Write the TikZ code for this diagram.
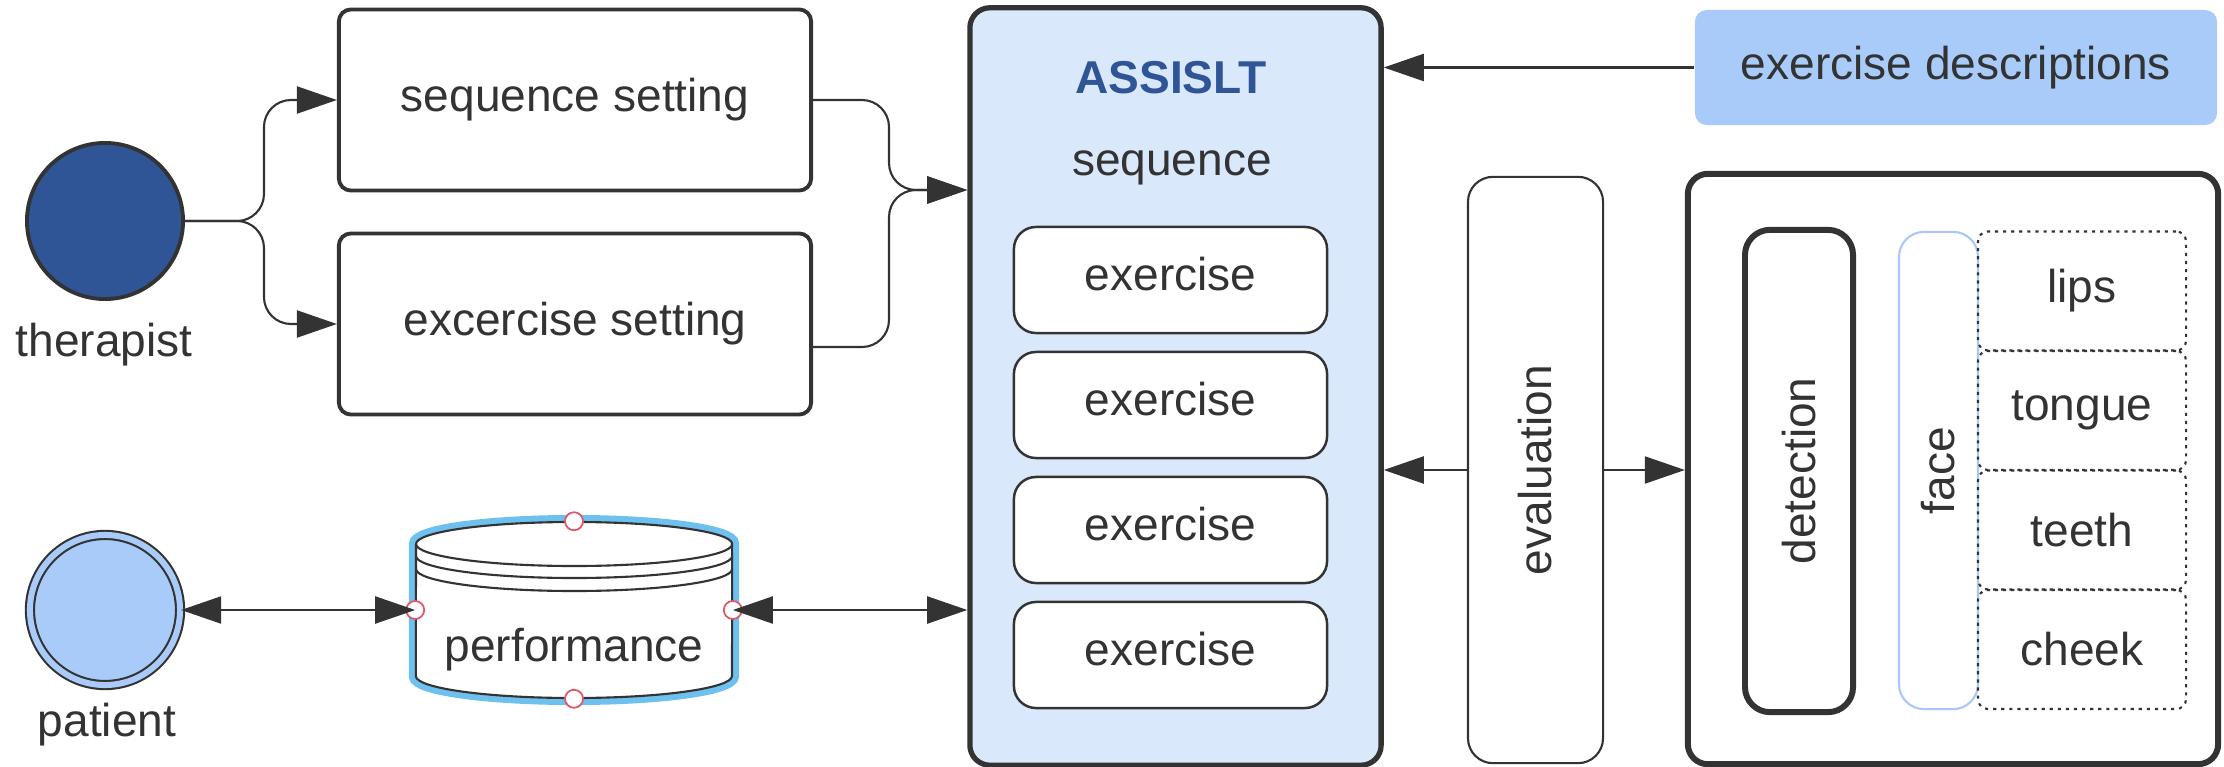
\documentclass[tikz,border=0pt]{standalone}
\usepackage{fontspec}
\setmainfont{Liberation Sans}
\usetikzlibrary{arrows.meta}
\definecolor{ink}{HTML}{333333}
\definecolor{deepblue}{HTML}{2F5597}
\definecolor{paleblue}{HTML}{DAE8FC}
\definecolor{skyblue}{HTML}{A9CBFA}
\definecolor{facerim}{HTML}{A9C8F7}
\definecolor{glow}{HTML}{6EC1EE}
\definecolor{handle}{HTML}{E0576A}

\begin{document}
\begin{tikzpicture}
[x=0.01cm, y=-0.01cm,
 every node/.style={font=\fontsize{13.1}{15}\selectfont, text=ink},
 >={Triangle[length=0.40cm,width=0.27cm]},
 conn/.style={draw=ink, line width=0.6pt},
 setbox/.style={draw=ink, line width=1.1pt, rounded corners=0.12cm, minimum width=4.72cm, minimum height=1.81cm},
 exbox/.style={draw=ink, fill=white, line width=0.7pt, rounded corners=0.22cm, minimum width=3.13cm, minimum height=1.06cm, text depth=0.12cm},
 cell/.style={draw=ink, line width=0.6pt, dash pattern=on 0.9pt off 1.4pt, rounded corners=0.1cm, minimum width=2.08cm, minimum height=1.19cm},
]
\useasboundingbox (0,0) rectangle (2224,767);
\def \rx {1.58cm}
\def \ry {0.22cm}

% actors
\node[circle, draw=ink, line width=1.1pt, fill=deepblue, minimum size=1.56cm] (therapist) at (105,221) {};
\node (therapistlabel) at (104,345) {therapist};
\node[circle, draw=ink, line width=0.6pt, fill=skyblue, double=skyblue, double distance=0.06cm, minimum size=1.50cm] (patient) at (105,610) {};
\node (patientlabel) at (107,725) {patient};

% settings
\node[setbox] (seqset) at (575,100) {sequence setting};
\node[setbox] (excset) at (575,324) {excercise setting};

% performance store
\node[minimum width=3.16cm, minimum height=1.76cm] (perf) at (574,610) {};
\draw[glow, line width=4pt] (416,544) arc[start angle=180, end angle=0, x radius=\rx, y radius=\ry]
  -- (732,676) arc[start angle=0, end angle=-180, x radius=\rx, y radius=\ry] -- cycle;
\draw[ink, line width=0.6pt, fill=white] (416,544) arc[start angle=180, end angle=0, x radius=\rx, y radius=\ry]
  -- (732,676) arc[start angle=0, end angle=-180, x radius=\rx, y radius=\ry] -- cycle;
\foreach \dy in {0,12,25}
  \draw[ink, line width=0.6pt] (416,544+\dy) arc[start angle=180, end angle=360, x radius=\rx, y radius=\ry];
\node (perflabel) at (574,650) {performance};
\foreach \a in {north,south,west,east}
  \draw[handle, fill=white, line width=0.5pt] (perf.\a) circle[radius=0.09cm];

% sequence
\node[draw=ink, fill=paleblue, line width=1.5pt, rounded corners=0.2cm, minimum width=4.11cm, minimum height=7.57cm] (assislt) at (1175.5,386.5) {};
\node[font=\fontsize{13.1}{15}\selectfont\bfseries, text=deepblue] (title) at (1171,78) {ASSISLT};
\node (seqlabel) at (1172,168) {sequence};
\foreach \i in {1,...,4}
  \node[exbox] (ex\i) at (1170.5,155+125*\i) {exercise};

\node[fill=skyblue, rounded corners=0.12cm, minimum width=5.22cm, minimum height=1.15cm] (exdesc) at (1956,67.5) {exercise descriptions};

% evaluation and detection
\node[draw=ink, line width=0.6pt, rounded corners=0.25cm, minimum width=1.35cm, minimum height=5.86cm] (eval) at (1535.5,470) {};
\node[rotate=90] (evallabel) at (eval) {evaluation};
\node[draw=ink, line width=1.7pt, rounded corners=0.2cm, minimum width=5.30cm, minimum height=5.90cm] (analysis) at (1953,469) {};
\node[draw=ink, line width=1.7pt, rounded corners=0.25cm, minimum width=1.08cm, minimum height=4.82cm] (detection) at (1799,471) {};
\node[rotate=90] (detectionlabel) at (detection) {detection};
\node[draw=facerim, line width=0.6pt, rounded corners=0.25cm, minimum width=0.79cm, minimum height=4.77cm] (face) at (1938.5,470.5) {};
\node[rotate=90] (facelabel) at (face) {face};
\foreach \part [count=\i] in {lips,tongue,teeth,cheek}
  \node[cell] (\part) at (2082,171.5+119.5*\i) {\part};

% connectors
\draw[conn, ->, rounded corners=0.27cm] (therapist.east) -- ++(79,0) |- (seqset.west);
\draw[conn, ->, rounded corners=0.27cm] (therapist.east) -- ++(79,0) |- (excset.west);
\coordinate (merge) at (889,190);
\draw[conn, ->, rounded corners=0.27cm] (seqset.east) -| (merge) -- (merge -| assislt.west);
\draw[conn, ->, rounded corners=0.27cm] ([yshift=-0.23cm]excset.east) -| (merge) -- (merge -| assislt.west);
\draw[conn, <->] (patient) -- (perf.west);
\draw[conn, <->] (perf.east) -- (perf.east -| assislt.west);
\draw[conn, ->] (exdesc.west) -- (exdesc.west -| assislt.east);
\draw[conn, ->] (eval.west) -- (eval.west -| assislt.east);
\draw[conn, ->] (eval.east) -- (eval.east -| analysis.west);
\end{tikzpicture}
\end{document}
